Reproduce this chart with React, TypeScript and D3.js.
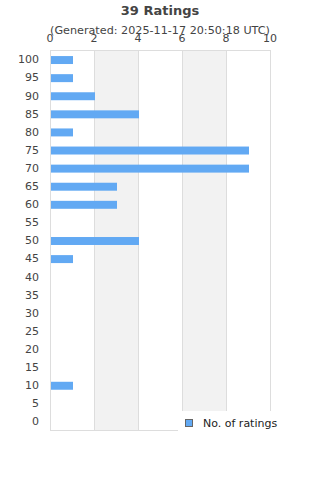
import React from 'react'
import * as d3 from 'd3'

// ratings buckets, top to bottom
const categories = ['100', '95', '90', '85', '80', '75', '70', '65', '60', '55', '50', '45', '40', '35', '30', '25', '20', '15', '10', '5', '0']
const counts = [1, 1, 2, 4, 1, 9, 9, 3, 3, 0, 4, 1, 0, 0, 0, 0, 0, 0, 1, 0, 0]
const xTicks = [0, 2, 4, 6, 8, 10]
const title = '39 Ratings'
const subtitle = '(Generated: 2025-11-17 20:50:18 UTC)'
const seriesName = 'No. of ratings'

const App = () => {
  const w = 320
  const h = 480
  const left = 50
  const right = 270
  const top = 50
  const bottom = 430

  const x = d3.scaleLinear().domain([0, 10]).range([left, right])
  const y = d3.scaleBand().domain(categories).range([top + 1, bottom + 1]).paddingInner(0.56).paddingOuter(0.28)
  const font = 'DejaVu Sans, sans-serif'

  return (
    <svg width={w} height={h} style={{ position: 'absolute', left: 0, top: 0, background: '#fff' }}>
      {/* alternating bands */}
      {xTicks.slice(0, -1).map((t, i) =>
        i % 2 === 1 ? (
          <rect key={'b' + t} x={x(t)} y={top} width={x(xTicks[i + 1]) - x(t)} height={bottom - top} fill="#f2f2f2" />
        ) : null
      )}
      {/* grid */}
      {xTicks.map(t => (
        <line key={'g' + t} x1={x(t) + 0.5} x2={x(t) + 0.5} y1={top} y2={bottom} stroke="#ddd" />
      ))}
      <line x1={left} x2={right} y1={top + 0.5} y2={top + 0.5} stroke="#ddd" />
      <line x1={left} x2={right} y1={bottom + 0.5} y2={bottom + 0.5} stroke="#ddd" />
      {/* bars */}
      {categories.map((c, i) =>
        counts[i] > 0 ? (
          <rect key={'r' + c} x={x(0) + 1} y={y(c)} width={x(counts[i]) - x(0)} height={y.bandwidth()} fill="#62a9f3" />
        ) : null
      )}
      {/* y labels */}
      {categories.map(c => (
        <text key={'y' + c} x={39} y={(y(c) || 0) + y.bandwidth() / 2 - 0.5} dy="0.35em" textAnchor="end" fontSize={11} fill="#444" fontFamily={font}>
          {c}
        </text>
      ))}
      {/* x labels on top */}
      {xTicks.map(t => (
        <text key={'x' + t} x={x(t)} y={42} textAnchor="middle" fontSize={11} fill="#444" fontFamily={font}>
          {t}
        </text>
      ))}
      <text x={160} y={15} textAnchor="middle" fontSize={13} fontWeight="bold" fill="#444" fontFamily={font}>
        {title}
      </text>
      <text x={160} y={34} textAnchor="middle" fontSize={11.2} fill="#444" fontFamily={font}>
        {subtitle}
      </text>
      {/* legend */}
      <rect x={178} y={411} width={112} height={21} fill="#fff" />
      <rect x={185.5} y={419.5} width={7} height={7} fill="#62a9f3" stroke="#666" />
      <text x={203} y={427} fontSize={11} fill="#222" fontFamily={font}>
        {seriesName}
      </text>
    </svg>
  )
}

export default App
